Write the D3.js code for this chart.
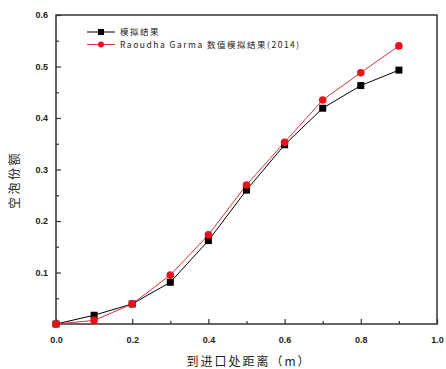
<!DOCTYPE html>
<html><head><meta charset="utf-8">
<script src="https://cdn.jsdelivr.net/npm/d3@7"></script>
<style>body{margin:0;background:#fff}svg{display:block}</style>
</head><body><svg id="c" width="446" height="369"></svg>
<script>
const xValues = [0, 0.1, 0.2, 0.3, 0.4, 0.5, 0.6, 0.7, 0.8, 0.9];
const simValues = [0, 0.017, 0.039, 0.081, 0.162, 0.26, 0.348, 0.419, 0.463, 0.493];
const refValues = [0, 0.007, 0.039, 0.095, 0.173, 0.27, 0.353, 0.435, 0.488, 0.54];
const xTicks = [0, 0.2, 0.4, 0.6, 0.8, 1.0];
const yTicks = [0.1, 0.2, 0.3, 0.4, 0.5, 0.6];
const seriesNames = ["模拟结果", "Raoudha Garma 数值模拟结果(2014)"];
const xTitle = "到进口处距离（m）";
const yTitle = "空泡份额";

const svg = d3.select("#c");
const L = 56, R = 437, T = 15, B = 324;
const x = d3.scaleLinear().domain([0, 1]).range([L, R]);
const y = d3.scaleLinear().domain([0, 0.6]).range([B, T]);
const font = "'Liberation Sans', Arial, sans-serif";
const cjk = "'Noto Sans CJK SC', sans-serif";
const axisColor = "#333";

// frame
svg.append("rect").attr("x", L).attr("y", T).attr("width", R - L).attr("height", B - T)
  .attr("fill", "none").attr("stroke", axisColor).attr("stroke-width", 1.5);

// x axis
const xa = svg.append("g").attr("transform", `translate(0,${B})`)
  .call(d3.axisBottom(x).tickValues(xTicks).tickSize(-5).tickPadding(13).tickFormat(d3.format(".1f")));
xa.select(".domain").remove();
const xm = svg.append("g").attr("transform", `translate(0,${B})`)
  .call(d3.axisBottom(x).tickValues([0.1, 0.3, 0.5, 0.7, 0.9]).tickSize(-3).tickFormat(""));
xm.select(".domain").remove();

// y axis
const ya = svg.append("g").attr("transform", `translate(${L},0)`)
  .call(d3.axisLeft(y).tickValues(yTicks).tickSize(-5).tickPadding(8).tickFormat(d3.format(".1f")));
ya.select(".domain").remove();
const ym = svg.append("g").attr("transform", `translate(${L},0)`)
  .call(d3.axisLeft(y).tickValues([0.05, 0.15, 0.25, 0.35, 0.45, 0.55]).tickSize(-3).tickFormat(""));
ym.select(".domain").remove();

svg.selectAll(".tick line").attr("stroke", axisColor).attr("stroke-width", 1.2);
svg.selectAll(".tick text").attr("fill", "#222").attr("font-family", font)
  .attr("font-size", 9).attr("font-weight", "bold");

// titles
svg.append("text").attr("x", 249).attr("y", 366).attr("text-anchor", "middle")
  .attr("font-family", cjk).attr("font-size", 12).attr("letter-spacing", 2)
  .attr("fill", "#222").text(xTitle);
svg.append("text").attr("transform", "translate(19,180) rotate(-90)").attr("text-anchor", "middle")
  .attr("font-family", cjk).attr("font-size", 12).attr("letter-spacing", 2.5)
  .attr("fill", "#222").text(yTitle);

// lines
const line = vals => d3.line().x((d, i) => x(xValues[i])).y(d => y(d))(vals);
svg.append("path").attr("d", line(simValues)).attr("fill", "none").attr("stroke", "#000").attr("stroke-width", 1);
svg.append("path").attr("d", line(refValues)).attr("fill", "none").attr("stroke", "#e0303a").attr("stroke-width", 1);

// markers
svg.selectAll(".sq").data(simValues).enter().append("rect")
  .attr("x", (d, i) => x(xValues[i]) - 3.5).attr("y", d => y(d) - 3.5)
  .attr("width", 7).attr("height", 7).attr("fill", "#000");
svg.selectAll(".ci").data(refValues).enter().append("circle")
  .attr("cx", (d, i) => x(xValues[i])).attr("cy", d => y(d)).attr("r", 3.8).attr("fill", "#e8101c");

// legend
const lg = svg.append("g");
const rows = [{c: "#000", m: "sq"}, {c: "#e0303a", m: "ci"}];
rows.forEach((r, i) => {
  const yy = 32 + i * 12.5;
  lg.append("line").attr("x1", 87).attr("x2", 115).attr("y1", yy).attr("y2", yy)
    .attr("stroke", r.c).attr("stroke-width", 1);
  if (r.m === "sq") lg.append("rect").attr("x", 98).attr("y", yy - 3).attr("width", 6).attr("height", 6).attr("fill", "#000");
  else lg.append("circle").attr("cx", 101).attr("cy", yy).attr("r", 3).attr("fill", "#e8101c");
  lg.append("text").attr("x", 120).attr("y", yy + 3).attr("font-family", cjk)
    .attr("font-size", 8.5).attr("letter-spacing", 1.5).attr("fill", "#222").text(seriesNames[i]);
});
</script></body></html>
